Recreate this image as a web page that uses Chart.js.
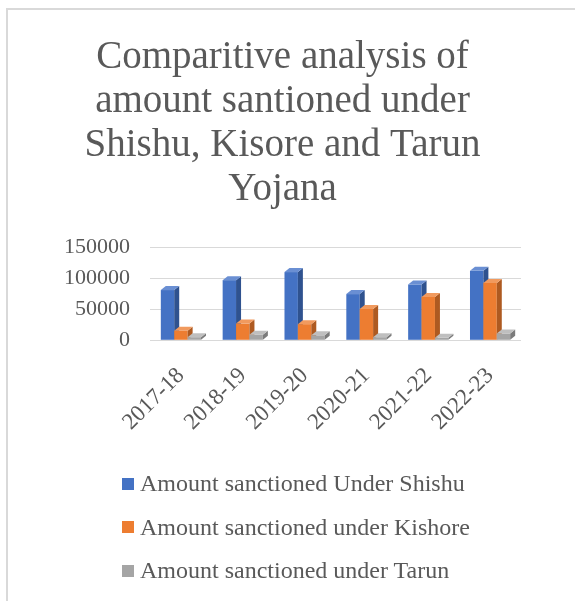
<!DOCTYPE html>
<html>
<head>
<meta charset="utf-8">
<script src="https://cdn.jsdelivr.net/npm/chart.js@4.4.0/dist/chart.umd.min.js"></script>
<style>
  body { margin: 0; background: #fff; }
  #frame { position: absolute; left: 6px; top: 8px; width: 575px; height: 601px;
           border-left: 2px solid #d9d9d9; border-top: 2px solid #d9d9d9; }
  #wrap { position: absolute; left: 0; top: 0; width: 575px; height: 601px; }
  #legend { position: absolute; left: 122px; top: 462px; font-family: "Liberation Serif", serif;
            font-size: 24px; color: #595959; }
  #legend div { height: 43.5px; display: flex; align-items: center; }
  #legend span.box { display: inline-block; width: 12px; height: 12px; margin-right: 6px; }
</style>
</head>
<body>
<div id="frame"></div>
<div id="wrap"><canvas id="chart"></canvas></div>
<div id="legend"></div>
<script>
const years = ['2017-18', '2018-19', '2019-20', '2020-21', '2021-22', '2022-23'];
const shishu = [81000, 97000, 110000, 74500, 90000, 112000];
const kishore = [15500, 27000, 26000, 50500, 70000, 92500];
const tarun = [5000, 9000, 8000, 5000, 4000, 11000];
const seriesNames = ['Amount sanctioned Under Shishu', 'Amount sanctioned under Kishore', 'Amount sanctioned under Tarun'];
const yTicks = [0, 50000, 100000, 150000];

const colors = ['#4472C4', '#ED7D31', '#A5A5A5'];
const sides = ['#2F528F', '#AE5A21', '#7B7B7B'];
const tops = ['#6A8FD3', '#F19A5E', '#BFBFBF'];

// fake 3D: redraw each bar with a side and top face, in series order per category
const bars3d = {
    id: 'bars3d',
    afterDatasetsDraw(chart) {
        const ctx = chart.ctx;
        const dx = 5, dy = 4;
        const metas = chart.data.datasets.map((d, i) => chart.getDatasetMeta(i));
        for (let j = 0; j < years.length; j++) {
            metas.forEach((meta, i) => {
                const p = meta.data[j].getProps(['x', 'y', 'width', 'base'], true);
                const l = p.x - p.width / 2, r = p.x + p.width / 2;
                ctx.fillStyle = colors[i];
                ctx.fillRect(l, p.y, p.width, p.base - p.y);
                ctx.fillStyle = sides[i];
                ctx.beginPath();
                ctx.moveTo(r, p.y); ctx.lineTo(r + dx, p.y - dy);
                ctx.lineTo(r + dx, p.base - dy); ctx.lineTo(r, p.base);
                ctx.closePath(); ctx.fill();
                ctx.fillStyle = tops[i];
                ctx.beginPath();
                ctx.moveTo(l, p.y); ctx.lineTo(l + dx, p.y - dy);
                ctx.lineTo(r + dx, p.y - dy); ctx.lineTo(r, p.y);
                ctx.closePath(); ctx.fill();
            });
        }
    }
};

const ctx = document.getElementById('chart').getContext('2d');
new Chart(ctx, {
    type: 'bar',
    data: {
        labels: years,
        datasets: [
            { label: seriesNames[0], data: shishu, backgroundColor: 'rgba(0,0,0,0)' },
            { label: seriesNames[1], data: kishore, backgroundColor: 'rgba(0,0,0,0)' },
            { label: seriesNames[2], data: tarun, backgroundColor: 'rgba(0,0,0,0)' }
        ]
    },
    options: {
        responsive: true,
        maintainAspectRatio: false,
        animation: false,
        layout: { padding: { left: 44, right: 54, top: 36, bottom: 151 } },
        datasets: { bar: { categoryPercentage: 0.65, barPercentage: 1.0 } },
        plugins: {
            legend: { display: false },
            tooltip: { enabled: false },
            title: {
                display: true,
                text: ['Comparitive analysis of', 'amount santioned under', 'Shishu, Kisore and Tarun', 'Yojana'],
                color: '#595959',
                font: { family: 'Liberation Serif', size: 39, weight: 'normal', lineHeight: 1.13 },
                padding: { top: 0, bottom: 35 }
            }
        },
        scales: {
            x: {
                grid: { display: false },
                border: { display: false },
                ticks: {
                    color: '#595959', minRotation: 45, maxRotation: 45, padding: 14,
                    font: { family: 'Liberation Serif', size: 23 }
                }
            },
            y: {
                min: 0, max: 150000,
                afterBuildTicks: axis => { axis.ticks = yTicks.map(v => ({ value: v })); },
                grid: { color: '#d9d9d9', drawTicks: false },
                border: { display: false },
                ticks: {
                    color: '#595959', padding: 20, autoSkip: false,
                    callback: v => String(v),
                    font: { family: 'Liberation Serif', size: 22 }
                }
            }
        }
    },
    plugins: [bars3d]
});

const legend = document.getElementById('legend');
seriesNames.forEach((name, i) => {
    const row = document.createElement('div');
    row.innerHTML = '<span class="box" style="background:' + colors[i] + '"></span>' + name;
    legend.appendChild(row);
});
</script>
</body>
</html>
